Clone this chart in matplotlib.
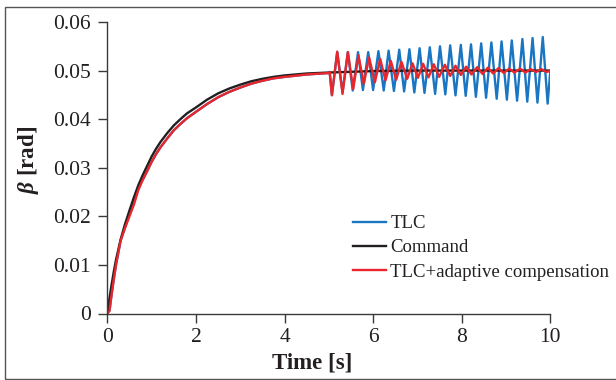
import matplotlib
matplotlib.use("Agg")
import matplotlib.pyplot as plt
from matplotlib.patches import Rectangle

plt.rcParams['font.family'] = ['Liberation Serif', 'DejaVu Serif']
plt.rcParams['mathtext.fontset'] = 'custom'
plt.rcParams['mathtext.it'] = 'Liberation Serif:italic:bold'
plt.rcParams['mathtext.rm'] = 'Liberation Serif:bold'
plt.rcParams['mathtext.bf'] = 'Liberation Serif:bold'

# ---- data: step response part (0..5 s) ----
step_t = [0, 0.05, 0.1, 0.15, 0.2, 0.3, 0.4, 0.5, 0.6, 0.7, 0.8, 0.9, 1.0, 1.1, 1.2,
          1.35, 1.5, 1.65, 1.8, 2.0, 2.25, 2.5, 2.75, 3.0, 3.25, 3.5, 3.75, 4.0, 4.5, 5.0]
command_step = [0, 0.0032, 0.0061, 0.0088, 0.0112, 0.0152, 0.0184, 0.0212, 0.0239,
                0.0264, 0.0285, 0.0304, 0.0323, 0.0339, 0.0353, 0.0371, 0.0387,
                0.0400, 0.0412, 0.0424, 0.0440, 0.0453, 0.0463, 0.0471, 0.0478,
                0.0483, 0.0487, 0.0490, 0.0494, 0.0496]
red_step = [0, 0.0006, 0.0041, 0.0073, 0.0102, 0.0150, 0.0176, 0.0200, 0.0224,
            0.0254, 0.0275, 0.0293, 0.0312, 0.0328, 0.0342, 0.0360, 0.0377,
            0.0390, 0.0402, 0.0415, 0.0431, 0.0445, 0.0456, 0.0465, 0.0473,
            0.0479, 0.0484, 0.0487, 0.0492, 0.0495]
blue_step = [0, 0.0006, 0.0041, 0.0073, 0.0102, 0.0150, 0.0177, 0.0205, 0.0232,
             0.0258, 0.0276, 0.0293, 0.0312, 0.0328, 0.0342, 0.0360, 0.0377,
             0.0390, 0.0402, 0.0415, 0.0431, 0.0445, 0.0456, 0.0465, 0.0473,
             0.0479, 0.0484, 0.0487, 0.0492, 0.0495]

# ---- command after 5 s ----
command_tail_t = [6.0, 7.0, 8.0, 9.0, 10.0]
command_tail = [0.0499, 0.0500, 0.0500, 0.0500, 0.0500]

# ---- TLC oscillation extrema (5..10 s) ----
tlc_osc_t = [5.02, 5.07, 5.19, 5.31, 5.43, 5.54, 5.66, 5.77, 5.89, 6.00, 6.12, 6.24,
             6.35, 6.47, 6.59, 6.70, 6.82, 6.93, 7.05, 7.16, 7.28, 7.40, 7.51, 7.63,
             7.74, 7.86, 7.98, 8.09, 8.21, 8.32, 8.44, 8.55, 8.67, 8.79, 8.90, 9.02,
             9.13, 9.25, 9.37, 9.48, 9.60, 9.71, 9.83, 9.94, 10.0]
tlc_osc = [0.0497, 0.0450, 0.0538, 0.0456, 0.0538, 0.0459, 0.0538, 0.0460, 0.0538,
           0.0460, 0.0540, 0.0459, 0.0541, 0.0458, 0.0543, 0.0457, 0.0544, 0.0455,
           0.0546, 0.0454, 0.0548, 0.0452, 0.0550, 0.0451, 0.0552, 0.0449, 0.0553,
           0.0448, 0.0554, 0.0446, 0.0556, 0.0444, 0.0558, 0.0442, 0.0560, 0.0440,
           0.0562, 0.0438, 0.0565, 0.0436, 0.0567, 0.0434, 0.0569, 0.0432, 0.0500]

# ---- TLC + adaptive compensation oscillation extrema (5..10 s) ----
ada_osc_t = [5.02, 5.07, 5.19, 5.31, 5.43, 5.55, 5.67, 5.79, 5.91, 6.04, 6.16, 6.28,
             6.40, 6.52, 6.64, 6.77, 6.89, 7.01, 7.13, 7.25, 7.37, 7.49, 7.62, 7.74,
             7.86, 7.98, 8.10, 8.22, 8.35, 8.47, 8.59, 8.71, 8.83, 8.95, 9.07, 9.19,
             9.32, 9.44, 9.56, 9.68, 9.80, 9.92, 10.0]
ada_osc = [0.0497, 0.0449, 0.0539, 0.0452, 0.0538, 0.0462, 0.0531, 0.0473, 0.0527,
           0.0476, 0.0524, 0.0480, 0.0520, 0.0481, 0.0518, 0.0483, 0.0515, 0.0485,
           0.0514, 0.0486, 0.0513, 0.0487, 0.0512, 0.0489, 0.0510, 0.0491, 0.0508,
           0.0492, 0.0507, 0.0493, 0.0506, 0.0494, 0.0505, 0.0495, 0.0504, 0.0496,
           0.0504, 0.0496, 0.0503, 0.0497, 0.0503, 0.0497, 0.0500]

x_ticks = [0, 2, 4, 6, 8, 10]
y_ticks = [0, 0.01, 0.02, 0.03, 0.04, 0.05, 0.06]
y_ticklabels = ['0', '0.01', '0.02', '0.03', '0.04', '0.05', '0.06']
labels = ['TLC', 'Command', 'TLC+adaptive compensation']

BLUE = '#1a75c2'
BLACK = '#231f20'
RED = '#e8262c'

W, H = 616, 380
AX_L, AX_R, AX_B, AX_T = 107.3, 550.3, 313.5, 22.0
fig = plt.figure(figsize=(W / 100, H / 100), dpi=100)
ax = fig.add_axes([AX_L / W, 1 - AX_B / H, (AX_R - AX_L) / W, (AX_B - AX_T) / H])

tlc_t = step_t + tlc_osc_t
tlc_v = blue_step + tlc_osc
cmd_t = step_t + command_tail_t
cmd_v = command_step + command_tail
ada_t = step_t + ada_osc_t
ada_v = red_step + ada_osc

lw = 1.7
l1, = ax.plot(tlc_t, tlc_v, color=BLUE, lw=lw, solid_joinstyle='round')
l2, = ax.plot(cmd_t, cmd_v, color=BLACK, lw=lw, solid_joinstyle='round')
l3, = ax.plot(ada_t, ada_v, color=RED, lw=lw, solid_joinstyle='round')

ax.set_xlim(0, 10)
ax.set_ylim(0, 0.06)
ax.set_xticks(x_ticks)
ax.set_xticklabels([str(v) for v in x_ticks])
ax.set_yticks(y_ticks)
ax.set_yticklabels(y_ticklabels)
for s in ['top', 'right']:
    ax.spines[s].set_visible(False)
for s in ['left', 'bottom']:
    ax.spines[s].set_color('#3a3a3a')
    ax.spines[s].set_linewidth(1.0)
ax.tick_params(direction='out', length=6.5, width=1.0, color='#3a3a3a',
               labelsize=15.5, labelcolor='#231f20', pad=4)
ax.tick_params(axis='y', pad=5.5)

ax.set_xlabel('Time [s]', fontsize=16.5, fontweight='bold', color='#231f20')
ax.set_ylabel(r'$\beta$ [rad]', fontsize=16.5, fontweight='bold', color='#231f20')
ax.xaxis.set_label_coords((312 - AX_L) / (AX_R - AX_L), (AX_B - 352) / (AX_B - AX_T))
ax.yaxis.set_label_coords((41 - AX_L) / (AX_R - AX_L), (AX_B - 160) / (AX_B - AX_T))

leg = ax.legend([l1, l2, l3], labels, loc='upper left',
                bbox_to_anchor=((352.7 - AX_L) / (AX_R - AX_L), (AX_B - 215) / (AX_B - AX_T)),
                frameon=False, fontsize=13.5, handlelength=1.75, handletextpad=0.25,
                labelspacing=0.38, borderpad=0, borderaxespad=0)
for t in leg.get_texts():
    t.set_color('#231f20')

# outer frame
fig.patches.append(Rectangle((4.5 / W, 1 - 378.5 / H), 1.05, (378.5 - 7.3) / H,
                             transform=fig.transFigure, fill=False,
                             edgecolor='#555555', lw=1.0, clip_on=False))

fig.savefig('out.png', dpi=100)
